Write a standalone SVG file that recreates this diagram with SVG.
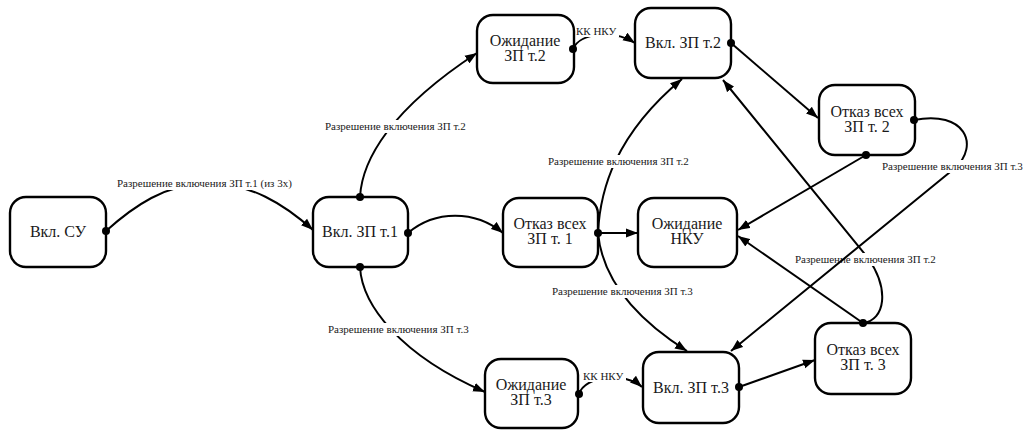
<svg xmlns="http://www.w3.org/2000/svg" width="1026" height="430" viewBox="0 0 1026 430">
<style>
.node rect{fill:#fff;stroke:#000;stroke-width:2.4}
.node text{font-family:"Liberation Serif","Times New Roman",serif;font-size:16px;fill:#1a1a1a;text-anchor:middle}
.edge path{fill:none;stroke:#000;stroke-width:2}
.edge .a{marker-end:url(#arr)}
.lbl{font-family:"Liberation Serif","Times New Roman",serif;font-size:11px;fill:#1a1a1a}
.bg{fill:#fff;stroke:none}
.dot{fill:#000}
</style>
<defs>
<marker id="arr" markerUnits="userSpaceOnUse" markerWidth="14" markerHeight="10" refX="12" refY="5" orient="auto">
<path d="M0,0.5 L12,5 L0,9.5 z" fill="#000"/>
</marker>
</defs>
<rect width="1026" height="430" fill="#fff"/>
<g id="connectors">
<g class="edge" id="e1"><path class="a" d="M106,231 C135,205 165,185 205,183 C250,182 285,205 313,230"/><rect class="bg" x="115" y="177" width="182" height="13"/><text class="lbl" x="117" y="187">Разрешение включения ЗП т.1 (из 3х)</text></g>
<g class="edge" id="e2"><path class="a" d="M360,197 C362,160 390,110 477,53"/><rect class="bg" x="323" y="120" width="149" height="13"/><text class="lbl" x="325" y="130">Разрешение включения ЗП т.2</text></g>
<g class="edge" id="e3"><path class="a" d="M360,267 C362,305 400,355 485,392"/><rect class="bg" x="326" y="323" width="149" height="13"/><text class="lbl" x="328" y="333">Разрешение включения ЗП т.3</text></g>
<g class="edge" id="e4"><path class="a" d="M408,233 C435,210 475,210 503,233"/></g>
<g class="edge" id="e5"><path class="a" d="M598,233 L638,233"/></g>
<g class="edge" id="e6"><path class="a" d="M598,233 C600,190 615,135 682,79"/><rect class="bg" x="546" y="155" width="148" height="13"/><text class="lbl" x="548" y="165">Разрешение включения ЗП т.2</text></g>
<g class="edge" id="e7"><path class="a" d="M598,233 C602,275 630,315 687,351"/><rect class="bg" x="550" y="285" width="148" height="13"/><text class="lbl" x="552" y="295">Разрешение включения ЗП т.3</text></g>
<g class="edge" id="e8"><path class="a" d="M573,49 C580,32 615,30 635,43"/><rect class="bg" x="575" y="25" width="44" height="12"/><text class="lbl" x="576" y="35">КК НКУ</text></g>
<g class="edge" id="e9"><path class="a" d="M579,394 C585,375 625,372 642,387"/><rect class="bg" x="582" y="370" width="44" height="12"/><text class="lbl" x="583" y="380">КК НКУ</text></g>
<g class="edge" id="e10"><path class="a" d="M731,43 L818,118"/></g>
<g class="edge" id="e11"><path class="a" d="M866,155 L738,230"/></g>
<g class="edge" id="e13"><path class="a" d="M739,387 L815,360"/></g>
<g class="edge" id="e14"><path class="a" d="M863,323 L738,236"/></g>
<g class="edge" id="e15"><path class="a" d="M863,323 C885,320 890,290 868,258 L723,80"/><rect class="bg" x="793" y="253" width="149" height="13"/><text class="lbl" x="795" y="263">Разрешение включения ЗП т.2</text></g>
<g class="edge" id="e12"><path class="a" d="M914,120 C965,110 980,145 955,168 L731,351"/><rect class="bg" x="880" y="160" width="146" height="13"/><text class="lbl" x="882" y="170">Разрешение включения ЗП т.3</text></g>
</g>
<g id="n-vkl-su" class="node"><rect x="10" y="197" width="96" height="70" rx="16"/><text x="58" y="237">Вкл. СУ</text></g>
<g id="n-vkl-zp1" class="node"><rect x="313" y="197" width="95" height="70" rx="16"/><text x="360" y="237">Вкл. ЗП т.1</text></g>
<g id="n-otkaz1" class="node"><rect x="503" y="198" width="95" height="69" rx="16"/><text x="550" y="229">Отказ всех</text><text x="550" y="244">ЗП т. 1</text></g>
<g id="n-ozh-nku" class="node"><rect x="638" y="198" width="99" height="69" rx="16"/><text x="687" y="229">Ожидание</text><text x="687" y="244">НКУ</text></g>
<g id="n-ozh-zp2" class="node"><rect x="477" y="15" width="97" height="68" rx="16"/><text x="525" y="46">Ожидание</text><text x="525" y="61">ЗП т.2</text></g>
<g id="n-vkl-zp2" class="node"><rect x="635" y="8" width="96" height="70" rx="16"/><text x="683" y="48">Вкл. ЗП т.2</text></g>
<g id="n-otkaz2" class="node"><rect x="819" y="85" width="96" height="70" rx="16"/><text x="867" y="117">Отказ всех</text><text x="867" y="132">ЗП т. 2</text></g>
<g id="n-ozh-zp3" class="node"><rect x="485" y="359" width="93" height="69" rx="16"/><text x="531" y="390">Ожидание</text><text x="531" y="405">ЗП т.3</text></g>
<g id="n-vkl-zp3" class="node"><rect x="643" y="352" width="96" height="71" rx="16"/><text x="691" y="393">Вкл. ЗП т.3</text></g>
<g id="n-otkaz3" class="node"><rect x="815" y="323" width="96" height="71" rx="16"/><text x="863" y="355">Отказ всех</text><text x="863" y="370">ЗП т. 3</text></g>
<g id="dots">
<circle class="dot" cx="106" cy="231" r="4"/>
<circle class="dot" cx="360" cy="197" r="4"/>
<circle class="dot" cx="360" cy="267" r="4"/>
<circle class="dot" cx="408" cy="233" r="4"/>
<circle class="dot" cx="598" cy="233" r="4"/>
<circle class="dot" cx="573" cy="49" r="4"/>
<circle class="dot" cx="579" cy="394" r="4"/>
<circle class="dot" cx="731" cy="43" r="4"/>
<circle class="dot" cx="866" cy="155" r="4"/>
<circle class="dot" cx="914" cy="120" r="4"/>
<circle class="dot" cx="739" cy="387" r="4"/>
<circle class="dot" cx="863" cy="323" r="4"/>
</g>
</svg>
